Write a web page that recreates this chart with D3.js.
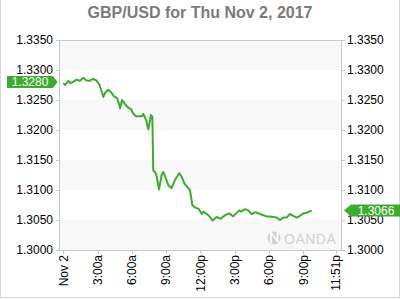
<!DOCTYPE html>
<html>
<head>
<meta charset="utf-8">
<script src="https://cdn.jsdelivr.net/npm/d3@7"></script>
<style>
  body { margin: 0; background: #fff; }
  svg { display: block; font-family: "Liberation Sans", Arial, sans-serif; }
</style>
</head>
<body>
<script>
// hours after midnight, Nov 2 2017
var hours = [0, 0.17, 0.44, 0.61, 0.85, 1.15, 1.46, 1.75, 1.99, 2.25, 2.62, 2.86, 3.15, 3.3, 3.5, 3.65, 3.94, 4.17, 4.44, 4.7,
  4.87, 4.96, 5.14, 5.4, 5.69, 5.92, 6.1, 6.36, 6.62, 6.89, 7.0, 7.24, 7.44, 7.67, 7.79, 7.87, 8.02, 8.15, 8.37, 8.61,
  8.75, 8.96, 9.19, 9.48, 9.77, 10.15, 10.36, 10.59, 10.8, 11.08, 11.29, 11.52, 11.87, 12.11, 12.25, 12.69, 13.07, 13.42, 13.77, 14.15,
  14.52, 14.87, 15.4, 15.55, 15.9, 16.19, 16.48, 16.83, 17.21, 17.5, 17.8, 18.08, 18.37, 18.67, 18.96, 19.25, 19.54, 19.83, 20.12, 20.42,
  20.71, 21.0, 21.3, 21.73];
var prices = [1.3278, 1.3275, 1.3282, 1.3278, 1.3280, 1.3284, 1.3282, 1.3287, 1.3283, 1.3282, 1.3285, 1.3283, 1.3276, 1.3267, 1.3255, 1.3262, 1.3267, 1.3263, 1.3256, 1.3253,
  1.3244, 1.3236, 1.3250, 1.3243, 1.3237, 1.3235, 1.3228, 1.3223, 1.3223, 1.3223, 1.3227, 1.3217, 1.3201, 1.3225, 1.3222, 1.3133, 1.3130, 1.3125, 1.3101, 1.3125,
  1.3130, 1.3120, 1.3108, 1.3103, 1.3117, 1.3128, 1.3122, 1.3111, 1.3106, 1.3100, 1.3075, 1.3071, 1.3068, 1.3060, 1.3064, 1.3058, 1.3049, 1.3055, 1.3052, 1.3058,
  1.3061, 1.3056, 1.3066, 1.3064, 1.3068, 1.3066, 1.3060, 1.3063, 1.3060, 1.3058, 1.3056, 1.3056, 1.3055, 1.3054, 1.3050, 1.3054, 1.3054, 1.3060, 1.3057, 1.3054,
  1.3057, 1.3061, 1.3062, 1.3066];
var openPrice = 1.3280;
var lastPrice = 1.3066;
var yTicks = [1.3000, 1.3050, 1.3100, 1.3150, 1.3200, 1.3250, 1.3300, 1.3350];
var xTickHours = [0, 3, 6, 9, 12, 15, 18, 21, 23.85];
var xTickLabels = ["Nov 2", "3:00a", "6:00a", "9:00a", "12:00p", "3:00p", "6:00p", "9:00p", "11:51p"];
var titleText = "GBP/USD for Thu Nov 2, 2017";

var green = "#3dab2f";
var day = new Date(2017, 10, 2);
function toDate(h) { return new Date(day.getTime() + h * 3600000); }

var svg = d3.select("body").append("svg").attr("width", 400).attr("height", 300);

var plotLeft = 59, plotRight = 342, plotTop = 40, plotBottom = 250;

var x = d3.scaleTime()
  .domain([toDate(0), toDate(23.85)])
  .range([63.3, 335.9]);
var y = d3.scaleLinear()
  .domain([1.3, 1.335])
  .range([plotBottom, plotTop]);

// outer border
svg.append("rect")
  .attr("x", 0.5).attr("y", -2).attr("width", 399).attr("height", 299.5)
  .attr("fill", "none").attr("stroke", "#d6d6d6");

svg.append("text")
  .attr("x", 200).attr("y", 18)
  .attr("text-anchor", "middle")
  .attr("font-size", 16).attr("font-weight", "bold")
  .attr("fill", "#7a7a7a")
  .text(titleText);

// plot background + alternating bands
svg.append("rect")
  .attr("x", plotLeft).attr("y", plotTop).attr("width", plotRight - plotLeft).attr("height", plotBottom - plotTop)
  .attr("fill", "#fff");
svg.selectAll("rect.band")
  .data(yTicks.filter(function (d, i) { return i % 2 == 0 && i < yTicks.length - 1; }))
  .enter().append("rect")
  .attr("class", "band")
  .attr("x", plotLeft).attr("width", plotRight - plotLeft)
  .attr("y", function (d) { return y(yTicks[yTicks.indexOf(d) + 1]); })
  .attr("height", function (d) { return y(d) - y(yTicks[yTicks.indexOf(d) + 1]); })
  .attr("fill", "#f8f8f8");

// watermark
var wm = svg.append("g").attr("fill", "#d0d0d0");
wm.append("circle").attr("cx", 274).attr("cy", 238).attr("r", 6.5);
wm.append("path").attr("d", "M271,243 L271,233 L277.5,241 L277.5,233").attr("fill", "none")
  .attr("stroke", "#fff").attr("stroke-width", 1.8);
wm.append("text").attr("x", 284).attr("y", 244).attr("font-size", 14).attr("letter-spacing", 0.5).text("OANDA");

// frame
svg.append("rect")
  .attr("x", plotLeft + 0.5).attr("y", plotTop + 0.5).attr("width", plotRight - plotLeft - 1).attr("height", plotBottom - plotTop)
  .attr("fill", "none").attr("stroke", "#c8c8c8");

// y axes
svg.selectAll("line.ytl").data(yTicks).enter().append("line")
  .attr("x1", plotLeft - 3).attr("x2", plotLeft)
  .attr("y1", function (d) { return Math.round(y(d)) + 0.5; })
  .attr("y2", function (d) { return Math.round(y(d)) + 0.5; })
  .attr("stroke", "#c8c8c8");
svg.selectAll("line.ytr").data(yTicks).enter().append("line")
  .attr("x1", plotRight).attr("x2", plotRight + 3)
  .attr("y1", function (d) { return Math.round(y(d)) + 0.5; })
  .attr("y2", function (d) { return Math.round(y(d)) + 0.5; })
  .attr("stroke", "#c8c8c8");
svg.selectAll("text.yl").data(yTicks).enter().append("text")
  .attr("x", 53).attr("y", function (d) { return y(d); })
  .attr("dy", "0.35em").attr("text-anchor", "end")
  .attr("font-size", 12).attr("fill", "#000")
  .text(function (d) { return d.toFixed(4); });
svg.selectAll("text.yr").data(yTicks).enter().append("text")
  .attr("x", 347).attr("y", function (d) { return y(d); })
  .attr("dy", "0.35em").attr("text-anchor", "start")
  .attr("font-size", 12).attr("fill", "#000")
  .text(function (d) { return d.toFixed(4); });

// x axis
svg.selectAll("line.xt").data(xTickHours).enter().append("line")
  .attr("x1", function (d) { return Math.round(x(toDate(d))) + 0.5; })
  .attr("x2", function (d) { return Math.round(x(toDate(d))) + 0.5; })
  .attr("y1", plotBottom).attr("y2", plotBottom + 4)
  .attr("stroke", "#c8c8c8");
svg.selectAll("text.xl").data(xTickHours).enter().append("text")
  .attr("transform", function (d) { return "translate(" + x(toDate(d)) + "," + (plotBottom + 5) + ") rotate(-90)"; })
  .attr("dy", "0.35em").attr("text-anchor", "end")
  .attr("font-size", 12).attr("fill", "#000")
  .text(function (d, i) { return xTickLabels[i]; });

// price line
var line = d3.line()
  .x(function (d, i) { return x(toDate(hours[i])); })
  .y(function (d) { return y(d); });
svg.append("path")
  .datum(prices)
  .attr("d", line)
  .attr("fill", "none")
  .attr("stroke", green)
  .attr("stroke-width", 2)
  .attr("stroke-linejoin", "round");

// open price tag (left)
var oy = y(openPrice);
svg.append("path")
  .attr("d", "M7," + (oy - 6) + " L53," + (oy - 6) + " L57.5," + oy + " L53," + (oy + 6) + " L7," + (oy + 6) + " Z")
  .attr("fill", green);
svg.append("text")
  .attr("x", 30).attr("y", oy).attr("dy", "0.36em")
  .attr("text-anchor", "middle").attr("font-size", 12).attr("fill", "#fff")
  .text(openPrice.toFixed(4));

// last price tag (right)
var ly = y(lastPrice);
svg.append("path")
  .attr("d", "M344," + ly + " L351," + (ly - 6) + " L400," + (ly - 6) + " L400," + (ly + 6) + " L351," + (ly + 6) + " Z")
  .attr("fill", green);
svg.append("text")
  .attr("x", 376).attr("y", ly).attr("dy", "0.36em")
  .attr("text-anchor", "middle").attr("font-size", 12).attr("fill", "#fff")
  .text(lastPrice.toFixed(4));
</script>
</body>
</html>
